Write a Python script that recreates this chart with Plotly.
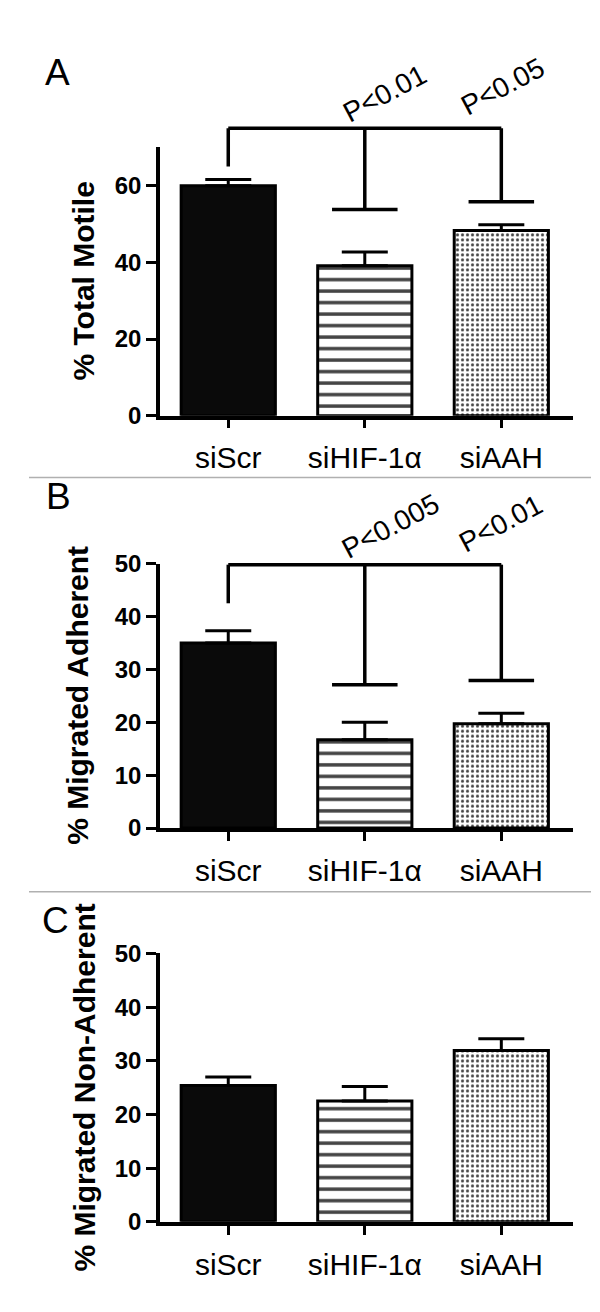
import plotly.graph_objects as go

W, H = 600, 1312

categories = ["siScr", "siHIF-1α", "siAAH"]

# Panel A: % Total Motile
A_mean = [60.0, 39.1, 48.3]
A_err = [1.6, 3.6, 1.5]
A_bracket_top = 75.0
A_bracket_drops = [65.0, 53.8, 55.8]
A_pvals = ["P<0.01", "P<0.05"]

# Panel B: % Migrated Adherent
B_mean = [35.0, 16.7, 19.7]
B_err = [2.3, 3.3, 2.0]
B_bracket_top = 49.8
B_bracket_drops = [42.5, 27.1, 27.9]
B_pvals = ["P<0.005", "P<0.01"]

# Panel C: % Migrated Non-Adherent
C_mean = [25.4, 22.5, 31.9]
C_err = [1.6, 2.7, 2.2]

A_ticks = [0, 20, 40, 60]
B_ticks = [0, 10, 20, 30, 40, 50]
C_ticks = [0, 10, 20, 30, 40, 50]

FONT = "Liberation Sans, Arial, Helvetica, sans-serif"


def py(p):
    return 1 - p / H


def px(p):
    return p / W


XDOM = [px(152), px(565)]
XRANGE = [-0.5, 2.525]

panels = [
    dict(key="A", mean=A_mean, err=A_err, ymax=70, ticks=A_ticks, base=402, top=128,
         title="% Total Motile", title_x=76, bracket=(A_bracket_top, A_bracket_drops),
         pvals=A_pvals, ppos=[(377, 73), (495, 66)], letter_pos=(49, 52)),
    dict(key="B", mean=B_mean, err=B_err, ymax=50, ticks=B_ticks, base=823, top=553,
         title="% Migrated Adherent", title_x=70, bracket=(B_bracket_top, B_bracket_drops),
         pvals=B_pvals, ppos=[(382, 515), (493, 512)], letter_pos=(50, 484)),
    dict(key="C", mean=C_mean, err=C_err, ymax=50, ticks=C_ticks, base=1225, top=951,
         title="% Migrated Non-Adherent", title_x=77, bracket=None,
         pvals=[], ppos=[], letter_pos=(47, 917)),
]

fig = go.Figure()
layout = dict(
    width=W, height=H, margin=dict(l=0, r=0, t=0, b=0),
    paper_bgcolor="white", plot_bgcolor="rgba(0,0,0,0)",
    showlegend=False, font=dict(family=FONT, color="black"),
    annotations=[], shapes=[],
)

bar_fill = ["#0a0a0a", "white", "white"]
pat_shape = ["", "-", "."]
pat_fg = ["#0a0a0a", "#000000", "#1a1a1a"]
pat_size = [8, 11.5, 5]
pat_sol = [0.3, 0.3, 0.3]

for i, p in enumerate(panels):
    n = i + 1
    xa = "x" if n == 1 else f"x{n}"
    ya = "y" if n == 1 else f"y{n}"
    m = n + 3
    xo, yo = f"x{m}", f"y{m}"

    fig.add_trace(go.Bar(
        x=[0, 1, 2], y=p["mean"], width=0.69,
        marker=dict(color=bar_fill, line=dict(color="black", width=3),
                    pattern=dict(shape=pat_shape, fgcolor=pat_fg, bgcolor=bar_fill,
                                 fgopacity=1, size=pat_size, solidity=pat_sol)),
        error_y=dict(type="data", array=p["err"], arrayminus=[0, 0, 0], symmetric=False,
                     color="black", thickness=3, width=23),
        xaxis=xa, yaxis=ya,
    ))

    ydom = [py(p["base"]), py(p["top"])]
    kx = "xaxis" if n == 1 else f"xaxis{n}"
    ky = "yaxis" if n == 1 else f"yaxis{n}"
    layout[kx] = dict(
        domain=XDOM, range=XRANGE, anchor=ya, showline=True, linewidth=3.5, linecolor="black",
        ticks="outside", ticklen=9, tickwidth=3, tickcolor="black",
        tickmode="array", tickvals=[0, 1, 2], ticktext=categories,
        tickfont=dict(family=FONT, size=30, color="black"), ticklabelstandoff=4,
        showgrid=False, zeroline=False, fixedrange=True,
    )
    layout[ky] = dict(
        domain=ydom, range=[0, p["ymax"]], anchor=xa, showline=True, linewidth=3.5,
        linecolor="black", ticks="outside", ticklen=10, tickwidth=3, tickcolor="black",
        tickmode="array", tickvals=p["ticks"],
        tickfont=dict(family=FONT, size=24, color="black", weight="bold"),
        showgrid=False, zeroline=False, fixedrange=True,
    )

    # overlay axes with the same scale and a taller domain (brackets above the axis)
    top_px = p["top"] - 120
    scale = p["ymax"] / (p["base"] - p["top"])
    layout[f"xaxis{m}"] = dict(domain=XDOM, range=XRANGE, anchor=yo, visible=False, fixedrange=True)
    layout[f"yaxis{m}"] = dict(domain=[py(p["base"]), py(top_px)],
                               range=[0, scale * (p["base"] - top_px)], anchor=xo,
                               visible=False, fixedrange=True)

    if p["bracket"] is not None:
        btop, drops = p["bracket"]
        hw = 0.24
        bx, by = [0, 2, None], [btop, btop, None]
        for j, d in enumerate(drops):
            bx += [j, j, None]
            by += [btop, d, None]
            if j > 0:
                bx += [j - hw, j + hw, None]
                by += [d, d, None]
        fig.add_trace(go.Scatter(x=bx, y=by, mode="lines",
                                 line=dict(color="black", width=3.5),
                                 xaxis=xo, yaxis=yo, hoverinfo="skip"))
        for t, (ax_, ay_) in zip(p["pvals"], p["ppos"]):
            layout["annotations"].append(dict(
                text=t, xref="paper", yref="paper", x=px(ax_), y=py(ay_),
                xanchor="center", yanchor="middle", showarrow=False, textangle=-28,
                font=dict(family=FONT, size=28, color="black")))

    layout["annotations"].append(dict(
        text=p["title"], xref="paper", yref="paper", x=px(p["title_x"]),
        y=py((p["base"] + p["top"]) / 2), xanchor="center", yanchor="middle",
        showarrow=False, textangle=-90,
        font=dict(family=FONT, size=30, color="black", weight="bold")))
    lx, ly = p["letter_pos"]
    layout["annotations"].append(dict(
        text=p["key"], xref="paper", yref="paper", x=px(lx), y=py(ly),
        xanchor="center", yanchor="middle", showarrow=False,
        font=dict(family=FONT, size=37, color="black")))

for sy in [465, 888]:
    layout["shapes"].append(dict(type="line", xref="paper", yref="paper",
                                 x0=px(21), x1=px(583), y0=py(sy), y1=py(sy),
                                 line=dict(color="#b0b0b0", width=1.5)))

fig.update_layout(**layout)
fig.write_html("out.html")
